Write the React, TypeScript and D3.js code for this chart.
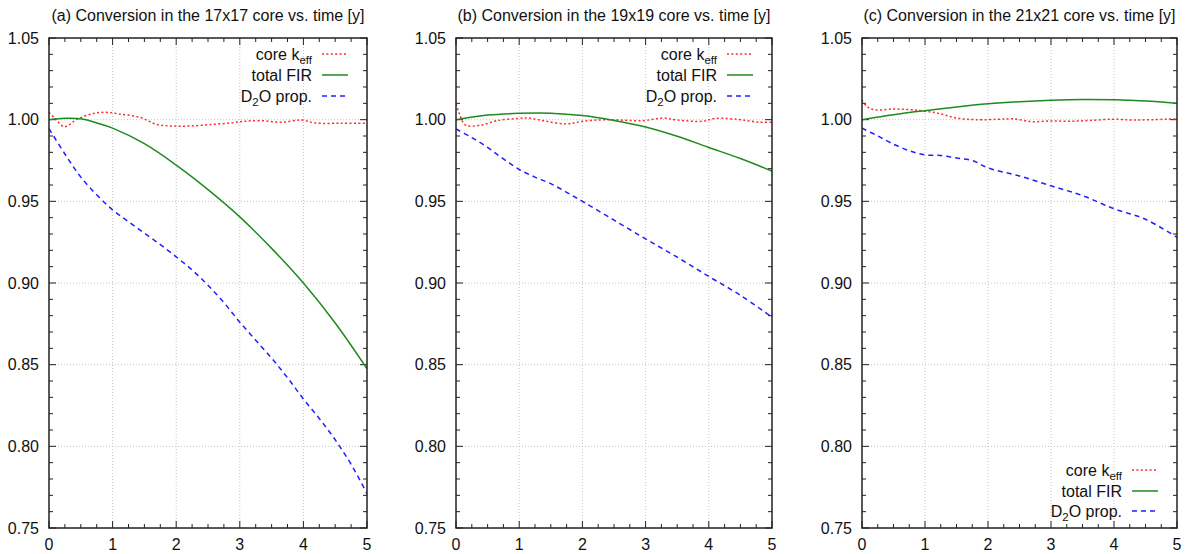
import React from "react";
import * as d3 from "d3";

const panelTitles = [
  "(a) Conversion in the 17x17 core vs. time [y]",
  "(b) Conversion in the 19x19 core vs. time [y]",
  "(c) Conversion in the 21x21 core vs. time [y]",
];
const xTicks = [0, 1, 2, 3, 4, 5];
const yTicks = [0.75, 0.8, 0.85, 0.9, 0.95, 1.0, 1.05];

// panel (a)
const keffA: [number, number][] = [[0,1.0045],[0.1,1.0005],[0.24,0.9957],[0.45,1.0004],[0.7,1.0038],[0.9,1.0045],[1.1,1.0035],[1.43,1.0014],[1.7,0.997],[1.95,0.9961],[2.2,0.9961],[2.54,0.997],[2.86,0.998],[3.07,0.999],[3.33,0.9994],[3.65,0.9984],[3.97,0.9998],[4.18,0.998],[4.6,0.9978],[5,0.9978]];
const firA: [number, number][] = [[0,1.0],[0.25,1.0008],[0.5,1.0005],[0.75,0.998],[1,0.9948],[1.5,0.9853],[2,0.9722],[2.5,0.9572],[3,0.9405],[3.5,0.9212],[4,0.9],[4.5,0.8755],[5,0.8475]];
const d2oA: [number, number][] = [[0,0.9945],[0.25,0.979],[0.5,0.9648],[0.75,0.954],[1,0.9448],[1.25,0.9375],[1.5,0.9305],[1.75,0.9235],[2,0.916],[2.25,0.908],[2.5,0.8986],[2.75,0.888],[3,0.876],[3.25,0.865],[3.5,0.854],[3.75,0.842],[4,0.829],[4.25,0.817],[4.5,0.804],[4.75,0.789],[5,0.771]];

// panel (b)
const keffB: [number, number][] = [[0,1.0096],[0.06,1.003],[0.15,0.9967],[0.4,0.9967],[0.65,0.9994],[1.0,1.0008],[1.15,1.001],[1.4,0.9992],[1.75,0.9974],[2.0,0.999],[2.4,1.0],[2.95,0.9994],[3.27,1.001],[3.5,0.9998],[3.9,0.999],[4.1,1.0008],[4.5,1.0],[4.8,0.9984],[5,0.9985]];
const firB: [number, number][] = [[0,1.0],[0.5,1.0028],[1,1.0039],[1.5,1.004],[2,1.0025],[2.5,0.9995],[3,0.9955],[3.5,0.9898],[4,0.983],[4.5,0.9762],[5,0.9685]];
const d2oB: [number, number][] = [[0,0.9943],[0.25,0.989],[0.5,0.983],[0.75,0.976],[1,0.9695],[1.25,0.9648],[1.5,0.9608],[1.75,0.9555],[2,0.95],[2.5,0.9385],[3,0.927],[3.5,0.9158],[4,0.904],[4.5,0.8925],[5,0.879]];

// panel (c)
const keffC: [number, number][] = [[0,1.012],[0.08,1.008],[0.2,1.006],[0.5,1.0065],[0.8,1.006],[1.2,1.004],[1.5,1.001],[1.8,1.0],[2.2,1.0003],[2.4,1.0005],[2.7,0.9988],[3.0,0.9992],[3.3,0.999],[3.6,0.9995],[4.0,1.0003],[4.3,0.9998],[4.6,1.0],[5,1.0005]];
const firC: [number, number][] = [[0,1.0],[0.5,1.003],[1,1.0055],[1.5,1.0078],[2,1.0097],[2.5,1.011],[3,1.0119],[3.5,1.0124],[4,1.0122],[4.5,1.0114],[5,1.0101]];
const d2oC: [number, number][] = [[0,0.9948],[0.25,0.99],[0.5,0.985],[0.75,0.981],[1,0.9785],[1.25,0.978],[1.5,0.9765],[1.75,0.975],[2,0.9705],[2.5,0.9655],[3,0.9595],[3.5,0.9535],[4,0.9455],[4.5,0.939],[5,0.928]];

const seriesNames = ["keff", "FIR", "D2O"];
const panelData = [
  [keffA, firA, d2oA],
  [keffB, firB, d2oB],
  [keffC, firC, d2oC],
];

const COLORS = ["#ff2a2a", "#1f8a1f", "#2020ff"];
const DASHES = ["2,2.4", "none", "5,4"];

const panelX = [[49, 367], [456, 772], [862, 1177]];
const TOP = 38;
const BOTTOM = 528;
const FONT = "'Liberation Sans', Arial, Helvetica, sans-serif";
const FS = 16;

function LegendLabel({ name, x, y }: { name: string; x: number; y: number }) {
  if (name === "keff")
    return (
      <text x={x} y={y} textAnchor="end" fontSize={FS} fontFamily={FONT} fill="#111">
        core k<tspan fontSize={11.5} dy={4}>eff</tspan>
      </text>
    );
  if (name === "FIR")
    return (
      <text x={x} y={y} textAnchor="end" fontSize={FS} fontFamily={FONT} fill="#111">
        total FIR
      </text>
    );
  return (
    <text x={x} y={y} textAnchor="end" fontSize={FS} fontFamily={FONT} fill="#111">
      D<tspan fontSize={11.5} dy={4}>2</tspan>
      <tspan dy={-4}>O prop.</tspan>
    </text>
  );
}

function Panel({ idx }: { idx: number }) {
  const [x0, x1] = panelX[idx];
  const x = d3.scaleLinear().domain([0, 5]).range([x0, x1]);
  const y = d3.scaleLinear().domain([0.75, 1.05]).range([BOTTOM, TOP]);
  const smooth = d3
    .line<[number, number]>()
    .x((d) => x(d[0]))
    .y((d) => y(d[1]))
    .curve(d3.curveCatmullRom.alpha(0.5));
  const xMinor = d3.range(0, 5.001, 0.25).filter((v) => Math.abs(v - Math.round(v)) > 1e-6);
  const yMinor = d3.range(0.75, 1.0501, 0.01).filter((v) => Math.abs(v * 20 - Math.round(v * 20)) > 1e-6);
  const legendBottom = idx === 2;
  const legendRows = legendBottom ? [470, 491, 511] : [54, 75, 96];
  const lineEnd = x1 - 19;
  const lineStart = lineEnd - 26;
  const textRight = lineStart - 10;
  return (
    <g>
      <text x={(x0 + x1) / 2} y={21} textAnchor="middle" fontSize={FS} fontFamily={FONT} fill="#111">
        {panelTitles[idx]}
      </text>
      {xTicks.slice(1, -1).map((t) => (
        <line key={"gx" + t} x1={x(t)} x2={x(t)} y1={TOP} y2={BOTTOM} stroke="#c4c4c4" strokeWidth={1} strokeDasharray="1,2" />
      ))}
      {yTicks.slice(1, -1).map((t) => (
        <line key={"gy" + t} x1={x0} x2={x1} y1={y(t)} y2={y(t)} stroke="#c4c4c4" strokeWidth={1} strokeDasharray="1,2" />
      ))}
      {xTicks.map((t) => (
        <g key={"xt" + t}>
          <line x1={x(t)} x2={x(t)} y1={BOTTOM} y2={BOTTOM - 7} stroke="#222" strokeWidth={1} />
          <line x1={x(t)} x2={x(t)} y1={TOP} y2={TOP + 7} stroke="#222" strokeWidth={1} />
          <text x={x(t)} y={550} textAnchor="middle" fontSize={FS} fontFamily={FONT} fill="#111">
            {t}
          </text>
        </g>
      ))}
      {xMinor.map((t) => (
        <g key={"xm" + t}>
          <line x1={x(t)} x2={x(t)} y1={BOTTOM} y2={BOTTOM - 4} stroke="#222" strokeWidth={1} />
          <line x1={x(t)} x2={x(t)} y1={TOP} y2={TOP + 4} stroke="#222" strokeWidth={1} />
        </g>
      ))}
      {yTicks.map((t) => (
        <g key={"yt" + t}>
          <line x1={x0} x2={x0 + 7} y1={y(t)} y2={y(t)} stroke="#222" strokeWidth={1} />
          <line x1={x1} x2={x1 - 7} y1={y(t)} y2={y(t)} stroke="#222" strokeWidth={1} />
          <text x={x0 - 10} y={y(t) + 5.5} textAnchor="end" fontSize={FS} fontFamily={FONT} fill="#111">
            {t.toFixed(2)}
          </text>
        </g>
      ))}
      {yMinor.map((t) => (
        <g key={"ym" + t}>
          <line x1={x0} x2={x0 + 4} y1={y(t)} y2={y(t)} stroke="#222" strokeWidth={1} />
          <line x1={x1} x2={x1 - 4} y1={y(t)} y2={y(t)} stroke="#222" strokeWidth={1} />
        </g>
      ))}
      <defs>
        <clipPath id={"clip" + idx}>
          <rect x={x0} y={TOP} width={x1 - x0} height={BOTTOM - TOP} />
        </clipPath>
      </defs>
      <g clipPath={`url(#clip${idx})`}>
        {panelData[idx].map((s, i) => (
          <path
            key={i}
            d={smooth(s) || ""}
            fill="none"
            stroke={COLORS[i]}
            strokeWidth={1.5}
            strokeDasharray={DASHES[i]}
          />
        ))}
      </g>
      {seriesNames.map((n, i) => (
        <g key={"lg" + n}>
          <LegendLabel name={n} x={textRight} y={legendRows[i] + 5.5} />
          <line
            x1={lineStart}
            x2={lineEnd}
            y1={legendRows[i]}
            y2={legendRows[i]}
            stroke={COLORS[i]}
            strokeWidth={1.5}
            strokeDasharray={DASHES[i]}
          />
        </g>
      ))}
      <rect x={x0} y={TOP} width={x1 - x0} height={BOTTOM - TOP} fill="none" stroke="#222" strokeWidth={1.5} />
    </g>
  );
}

export default function App() {
  return (
    <svg width={1189} height={554} style={{ position: "absolute", left: 0, top: 0, background: "#fff" }}>
      <rect width={1189} height={554} fill="#fff" />
      {[0, 1, 2].map((i) => (
        <Panel key={i} idx={i} />
      ))}
    </svg>
  );
}
